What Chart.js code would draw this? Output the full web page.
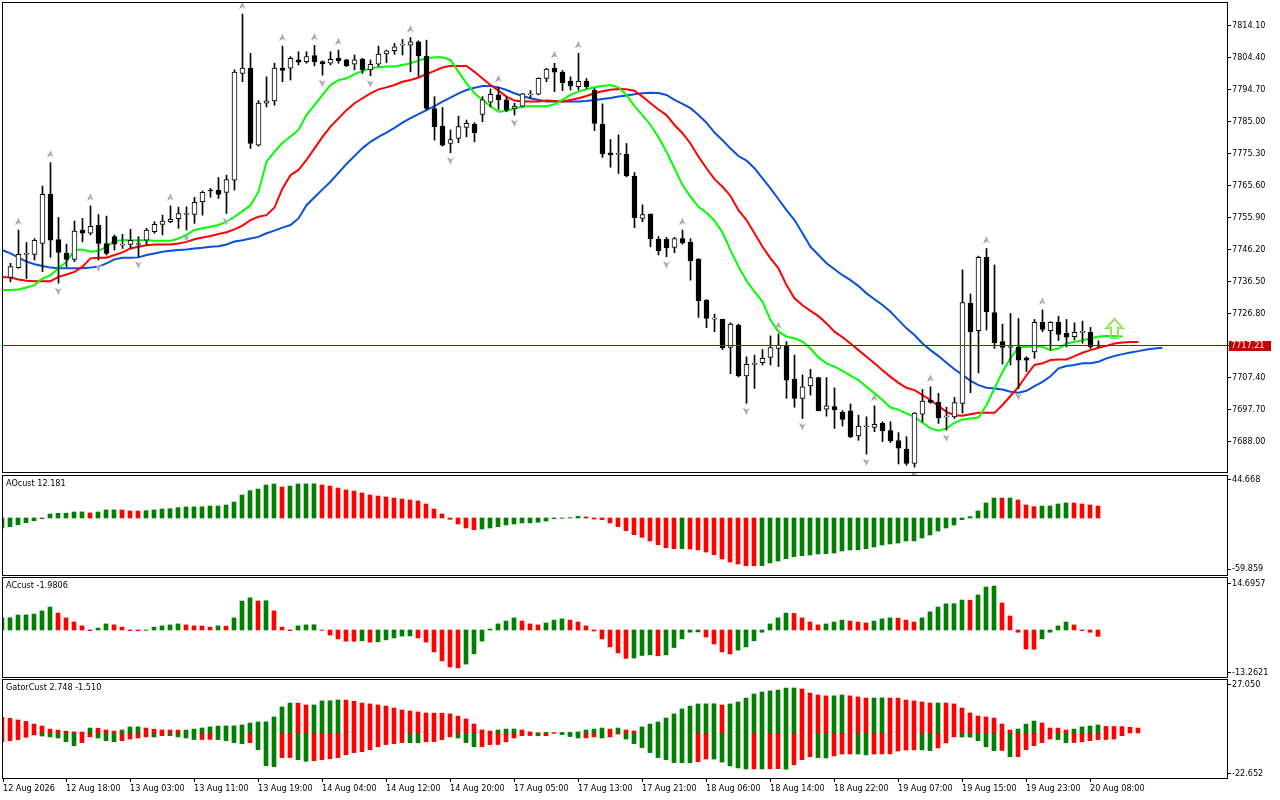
<!DOCTYPE html>
<html>
<head>
<meta charset="utf-8">
<script src="https://cdn.jsdelivr.net/npm/chart.js@4.4.1/dist/chart.umd.min.js"></script>
<style>
  html, body { margin: 0; padding: 0; background: #fff; width: 1280px; height: 800px; overflow: hidden; }
  canvas { position: absolute; left: 0; }
  #main { top: 0; }
  #ao { top: 475px; }
  #ac { top: 577px; }
  #gator { top: 679px; }
</style>
</head>
<body>
<canvas id="main" width="1280" height="476"></canvas>
<canvas id="ao" width="1280" height="101"></canvas>
<canvas id="ac" width="1280" height="101"></canvas>
<canvas id="gator" width="1280" height="121"></canvas>
<script>
// candles, index 0..136 (hourly bars)
const open = [
  7737.7, 7740.7, 7744.7, 7744.7, 7748.0, 7762.9, 7749.2, 7745.0, 7743.2, 7752.1,
  7751.1, 7753.5, 7748.0, 7750.1, 7747.5, 7747.7, 7747.7, 7749.0, 7751.6, 7753.8,
  7754.6, 7755.5, 7756.8, 7756.8, 7760.7, 7764.2, 7764.2, 7763.5, 7767.2, 7799.5,
  7801.1, 7777.8, 7790.5, 7791.2, 7801.1, 7801.1, 7803.6, 7803.1, 7804.9, 7803.1,
  7802.6, 7804.1, 7803.6, 7802.3, 7803.8, 7800.6, 7802.3, 7805.4, 7806.4, 7808.1,
  7808.1, 7809.1, 7804.8, 7788.9, 7783.6, 7778.3, 7779.8, 7783.2, 7784.1, 7787.1,
  7790.8, 7793.0, 7791.5, 7788.9, 7789.6, 7793.0, 7793.2, 7798.0, 7801.1, 7799.9,
  7797.2, 7795.5, 7797.2, 7794.5, 7784.1, 7775.5, 7775.0, 7775.0, 7768.4, 7755.6,
  7756.9, 7749.3, 7749.3, 7746.8, 7749.5, 7748.4, 7743.3, 7730.9, 7725.1, 7725.0,
  7716.5, 7723.3, 7707.9, 7711.4, 7711.9, 7713.5, 7716.2, 7716.9, 7706.9, 7701.1,
  7704.9, 7707.4, 7697.8, 7698.6, 7696.9, 7697.3, 7689.7, 7692.5, 7692.3, 7693.5,
  7691.3, 7688.3, 7685.7, 7681.4, 7696.3, 7700.6, 7699.9, 7695.5, 7695.5, 7699.6,
  7729.9, 7721.6, 7743.8, 7727.1, 7718.3, 7716.5, 7716.7, 7713.4, 7715.2, 7724.1,
  7721.6, 7724.1, 7720.8, 7719.8, 7721.1, 7721.1, 7716.9
];
const high = [
  7742.0, 7752.1, 7748.3, 7749.5, 7765.4, 7772.5, 7755.9, 7747.8, 7754.8, 7755.6,
  7759.4, 7756.8, 7756.3, 7750.6, 7750.8, 7752.3, 7750.1, 7752.6, 7754.6, 7756.6,
  7759.4, 7759.0, 7759.1, 7762.0, 7763.9, 7764.7, 7768.0, 7768.7, 7800.6, 7817.5,
  7805.6, 7791.3, 7798.5, 7802.6, 7807.8, 7804.6, 7806.1, 7806.1, 7808.0, 7803.3,
  7806.1, 7806.6, 7803.8, 7805.1, 7804.1, 7803.6, 7807.8, 7806.6, 7808.6, 7809.8,
  7810.4, 7809.4, 7809.6, 7792.5, 7789.2, 7782.4, 7786.6, 7785.4, 7784.6, 7792.5,
  7794.8, 7795.3, 7792.5, 7790.5, 7793.5, 7794.3, 7798.2, 7801.1, 7802.6, 7800.4,
  7798.5, 7805.6, 7798.0, 7795.0, 7790.3, 7779.5, 7780.9, 7778.3, 7769.5, 7759.7,
  7757.0, 7750.1, 7749.9, 7749.9, 7752.1, 7749.5, 7743.4, 7731.0, 7726.6, 7725.1,
  7724.0, 7723.6, 7713.7, 7714.2, 7715.9, 7720.0, 7720.6, 7718.3, 7714.2, 7708.2,
  7709.9, 7707.5, 7707.4, 7704.3, 7697.4, 7699.4, 7696.0, 7695.5, 7698.8, 7694.0,
  7694.0, 7690.7, 7689.5, 7696.8, 7703.8, 7704.6, 7702.6, 7698.4, 7701.4, 7740.0,
  7732.7, 7744.2, 7746.5, 7741.5, 7723.6, 7726.8, 7725.3, 7713.7, 7725.0, 7727.9,
  7724.3, 7726.0, 7725.0, 7724.0, 7724.5, 7722.6, 7718.5
];
const low = [
  7736.4, 7740.5, 7737.4, 7743.0, 7739.5, 7743.8, 7736.0, 7741.0, 7742.5, 7748.5,
  7750.6, 7743.0, 7744.5, 7746.0, 7746.5, 7746.5, 7744.0, 7747.5, 7751.1, 7750.6,
  7754.3, 7752.6, 7752.1, 7754.1, 7756.6, 7762.0, 7761.7, 7757.1, 7764.2, 7797.0,
  7776.8, 7777.5, 7789.4, 7789.9, 7797.0, 7797.5, 7802.1, 7802.6, 7801.8, 7799.0,
  7802.1, 7802.6, 7801.6, 7800.6, 7799.5, 7798.8, 7801.6, 7802.8, 7805.3, 7805.1,
  7800.0, 7798.7, 7788.5, 7779.3, 7777.5, 7775.5, 7778.5, 7780.3, 7778.8, 7784.9,
  7789.4, 7788.6, 7787.9, 7786.9, 7789.4, 7792.0, 7793.0, 7797.0, 7794.0, 7794.3,
  7794.5, 7794.5, 7795.0, 7782.2, 7774.1, 7771.1, 7769.2, 7768.2, 7752.8, 7754.6,
  7747.0, 7744.5, 7744.0, 7745.2, 7747.8, 7736.9, 7725.6, 7722.5, 7721.3, 7715.9,
  7708.6, 7707.6, 7699.6, 7704.1, 7711.2, 7711.2, 7710.7, 7701.1, 7698.4, 7695.0,
  7702.1, 7697.3, 7695.7, 7692.0, 7692.7, 7689.2, 7688.4, 7684.2, 7691.0, 7688.0,
  7687.7, 7681.2, 7680.8, 7680.3, 7694.0, 7699.6, 7693.5, 7691.5, 7695.0, 7696.6,
  7702.8, 7708.8, 7721.8, 7716.2, 7711.5, 7711.2, 7704.1, 7709.2, 7713.2, 7721.3,
  7715.7, 7718.6, 7716.7, 7718.8, 7717.8, 7716.2, 7716.5
];
const close = [
  7741.0, 7744.7, 7744.7, 7749.0, 7762.9, 7749.0, 7745.3, 7743.2, 7751.8, 7751.1,
  7753.2, 7748.0, 7745.0, 7747.8, 7747.5, 7749.0, 7747.7, 7752.1, 7753.8, 7754.8,
  7755.3, 7757.1, 7756.8, 7760.5, 7763.5, 7763.9, 7762.9, 7767.4, 7799.9, 7801.1,
  7778.3, 7790.5, 7791.2, 7801.1, 7800.4, 7804.1, 7802.9, 7804.6, 7803.1, 7802.4,
  7803.8, 7803.4, 7801.9, 7803.6, 7800.6, 7802.3, 7805.4, 7806.4, 7807.6, 7808.3,
  7809.1, 7804.8, 7788.9, 7783.4, 7777.8, 7779.5, 7783.4, 7784.4, 7781.6, 7791.5,
  7793.2, 7791.5, 7788.4, 7789.6, 7793.3, 7793.2, 7798.0, 7800.8, 7799.9, 7796.7,
  7795.7, 7797.2, 7795.5, 7784.4, 7775.1, 7774.8, 7775.0, 7768.5, 7755.8, 7756.8,
  7749.5, 7745.8, 7746.7, 7749.5, 7748.2, 7742.8, 7730.7, 7725.3, 7725.1, 7716.4,
  7723.6, 7707.9, 7711.4, 7711.4, 7713.2, 7716.5, 7717.2, 7706.6, 7701.1, 7704.6,
  7707.4, 7697.4, 7698.8, 7697.6, 7694.7, 7689.5, 7692.7, 7692.5, 7693.2, 7691.2,
  7688.2, 7686.0, 7681.4, 7696.6, 7700.3, 7699.9, 7695.2, 7695.5, 7699.8, 7730.1,
  7721.3, 7743.8, 7727.3, 7718.0, 7716.5, 7716.5, 7712.7, 7712.7, 7724.1, 7722.0,
  7724.1, 7720.5, 7719.6, 7721.1, 7721.1, 7716.7, 7717.21
];

// alligator lines, first value is bar -1 (lines run past the last bar by their shift)
const lips = [
  7733.9, 7733.9, 7734.1, 7734.7, 7735.4, 7737.4, 7738.4, 7740.5, 7742.5, 7746.0, 7746.2,
  7745.5, 7745.8, 7747.0, 7748.8, 7749.0, 7749.0, 7749.0, 7749.0, 7748.8, 7748.8,
  7748.8, 7749.5, 7750.6, 7752.1, 7752.6, 7753.1, 7753.6, 7754.6, 7756.1, 7757.8,
  7759.6, 7763.7, 7772.8, 7775.8, 7778.5, 7780.4, 7782.4, 7786.9, 7789.9, 7793.0,
  7796.0, 7797.5, 7798.0, 7799.3, 7800.2, 7801.1, 7801.4, 7801.6, 7801.6, 7802.1,
  7802.6, 7803.4, 7804.1, 7804.4, 7804.4, 7803.6, 7800.0, 7796.5, 7793.5, 7791.5,
  7789.6, 7787.9, 7788.2, 7788.9, 7789.4, 7789.6, 7789.6, 7789.6, 7790.2, 7791.5,
  7793.0, 7794.0, 7794.7, 7795.3, 7795.7, 7796.0, 7795.3, 7793.0, 7789.6, 7786.9,
  7783.9, 7780.2, 7775.8, 7770.8, 7765.7, 7762.2, 7759.1, 7757.3, 7754.9, 7751.3,
  7746.0, 7741.0, 7736.7, 7733.4, 7730.4, 7724.8, 7721.3, 7719.8, 7719.3, 7718.3,
  7716.2, 7713.5, 7711.7, 7710.7, 7709.4, 7708.0, 7706.6, 7704.6, 7702.6, 7700.6,
  7698.3, 7697.7, 7696.5, 7695.5, 7693.7, 7692.0, 7691.3, 7692.0, 7693.7, 7694.7,
  7695.0, 7695.3, 7699.1, 7704.1, 7709.1, 7713.3, 7716.5, 7716.7, 7716.7, 7716.7,
  7715.7, 7716.2, 7717.7, 7718.2, 7718.7, 7719.2, 7719.8, 7720.0, 7720.0, 7719.8
];
const teeth = [
  7737.9, 7737.7, 7737.1, 7736.7, 7736.6, 7736.6, 7736.6, 7737.9, 7738.6, 7739.4, 7741.0,
  7743.5, 7743.7, 7743.7, 7744.5, 7745.3, 7746.5, 7747.0, 7747.5, 7747.7, 7747.7,
  7747.7, 7748.0, 7748.5, 7749.3, 7749.8, 7750.3, 7750.9, 7751.4, 7752.3, 7753.4,
  7755.1, 7756.1, 7756.6, 7758.9, 7764.7, 7768.7, 7770.3, 7773.3, 7776.8, 7780.3,
  7783.4, 7785.9, 7788.4, 7790.5, 7792.0, 7793.5, 7794.7, 7795.3, 7796.0, 7797.0,
  7797.5, 7798.3, 7799.3, 7800.3, 7801.3, 7801.8, 7801.8, 7801.8, 7800.0, 7798.0,
  7796.0, 7794.3, 7792.5, 7791.3, 7791.0, 7791.0, 7791.0, 7791.3, 7791.2, 7791.0,
  7791.5, 7792.0, 7792.7, 7793.5, 7794.1, 7794.6, 7794.8, 7794.7, 7794.3, 7792.5,
  7790.5, 7788.6, 7786.9, 7783.9, 7781.4, 7778.3, 7774.3, 7770.8, 7767.5, 7765.2,
  7762.4, 7758.1, 7755.1, 7751.1, 7747.0, 7743.5, 7740.5, 7735.4, 7731.4, 7729.3,
  7727.6, 7726.0, 7723.8, 7721.3, 7719.6, 7717.7, 7715.7, 7713.7, 7711.7, 7709.6,
  7707.6, 7705.8, 7704.3, 7703.6, 7702.1, 7700.6, 7698.8, 7697.0, 7696.0, 7695.8,
  7696.3, 7696.7, 7696.7, 7696.7, 7699.1, 7701.8, 7704.6, 7708.1, 7711.2, 7711.7,
  7712.7, 7712.9, 7712.9, 7713.9, 7714.9, 7715.7, 7716.4, 7717.0, 7717.7, 7718.0,
  7718.2, 7718.2
];
const jaw = [
  7746.0, 7745.0, 7743.7, 7742.5, 7741.7, 7741.2, 7740.7, 7740.5, 7740.5, 7740.5, 7740.5,
  7740.7, 7741.0, 7742.0, 7743.2, 7743.7, 7743.7, 7743.8, 7744.5, 7745.0, 7745.5,
  7745.8, 7746.0, 7746.2, 7746.5, 7746.7, 7747.0, 7747.2, 7747.7, 7748.6, 7749.0,
  7749.5, 7750.0, 7751.1, 7751.9, 7752.8, 7753.6, 7755.6, 7759.6, 7762.0, 7764.4,
  7766.7, 7769.4, 7772.1, 7774.5, 7776.9, 7778.8, 7780.3, 7781.6, 7783.0, 7784.6,
  7786.0, 7787.2, 7788.4, 7789.6, 7791.0, 7792.2, 7793.5, 7794.5, 7795.2, 7795.7,
  7795.7, 7795.3, 7794.5, 7793.5, 7792.7, 7792.0, 7791.5, 7791.0, 7791.0, 7791.0,
  7791.0, 7791.0, 7791.2, 7791.5, 7791.8, 7792.1, 7792.5, 7792.8, 7793.2, 7793.5,
  7793.7, 7793.6, 7793.0, 7791.5, 7790.3, 7789.0, 7786.9, 7784.6, 7781.6, 7779.3,
  7776.8, 7774.5, 7773.1, 7770.8, 7767.7, 7764.7, 7761.4, 7758.1, 7755.1, 7751.1,
  7747.0, 7744.5, 7742.0, 7740.2, 7738.4, 7736.9, 7735.1, 7732.9, 7731.1, 7729.4,
  7727.3, 7724.8, 7722.3, 7720.3, 7717.7, 7715.7, 7713.9, 7711.9, 7709.9, 7708.2,
  7706.4, 7705.1, 7704.3, 7704.1, 7703.8, 7703.1, 7702.8, 7703.4, 7704.8, 7706.1,
  7707.8, 7710.2, 7710.9, 7711.2, 7711.7, 7711.7, 7712.2, 7713.2, 7713.9, 7714.5,
  7715.0, 7715.4, 7715.9, 7716.2, 7716.4
];

// fractal bars and the buy-signal arrow
const fractalUp = [1, 5, 10, 20, 29, 34, 38, 41, 50, 61, 68, 71, 84, 96, 108, 115, 122, 129];
const fractalDown = [6, 11, 16, 22, 27, 39, 45, 55, 63, 82, 92, 99, 107, 113, 117, 126];
const signalBar = [138];
const signalPrice = [7719.4];
const lastPrice = 7717.21;

// indicator histograms, first value is bar -1
const ao = [
  -11.7, -10.1, -7.8, -5.5, -3.1, -0.8, 4.7, 5.5, 5.6, 7.0, 7.1,
  5.9, 7.0, 9.4, 9.5, 9.3, 8.2, 8.1, 8.6, 9.4, 10.5,
  10.9, 12.1, 12.9, 13.0, 13.1, 14.0, 14.1, 15.2, 18.7, 26.9,
  32.0, 33.9, 38.6, 39.8, 36.3, 37.4, 39.8, 39.9, 40.0, 38.6,
  37.4, 35.1, 32.8, 31.6, 29.3, 26.9, 25.7, 24.6, 23.4, 22.2,
  21.1, 19.9, 16.4, 10.5, 4.7, -1.5, -7.0, -11.7, -13.6, -12.9,
  -11.7, -10.1, -8.2, -7.0, -5.8, -5.7, -5.0, -3.5, -0.8, -0.4,
  0.4, 1.9, 1.2, -1.2, -1.9, -5.8, -10.1, -14.8, -19.5, -22.6,
  -26.9, -31.2, -34.7, -35.9, -35.8, -36.3, -37.4, -39.8, -42.9, -48.0,
  -51.5, -53.8, -55.8, -55.9, -55.7, -52.6, -50.3, -47.6, -45.2, -44.1,
  -43.3, -42.1, -41.7, -41.0, -38.6, -37.4, -37.3, -35.9, -33.9, -31.6,
  -30.4, -29.3, -26.9, -26.8, -23.4, -19.9, -15.2, -11.7, -8.2, -1.9,
  1.6, 8.2, 17.6, 23.4, 23.3, 23.4, 21.1, 15.2, 13.3, 14.0,
  14.1, 16.4, 17.6, 17.5, 16.4, 15.2, 14.0
];
const ac = [
  3.8, 3.85, 4.7, 4.75, 5.0, 6.0, 7.2, 5.3, 3.8, 2.5, 1.3,
  -0.2, 0.6, 1.9, 1.6, 0.9, -0.2, -0.25, -0.1, 0.9, 1.3,
  1.6, 1.9, 1.6, 1.3, 1.25, 0.9, 1.3, 1.2, 3.8, 9.1,
  10.1, 9.1, 9.2, 6.0, 0.9, -0.2, 1.3, 1.6, 1.65, -0.1,
  -1.6, -2.8, -3.5, -3.55, -3.4, -3.8, -3.7, -3.1, -2.5, -1.9,
  -1.85, -2.5, -3.8, -6.9, -9.7, -11.6, -11.9, -10.7, -7.5, -3.5,
  0.3, 1.9, 2.8, 3.8, 2.8, 1.9, 1.6, 2.2, 3.1, 3.5,
  3.1, 2.5, 1.3, -0.3, -2.8, -5.3, -7.2, -8.9, -8.8, -8.0,
  -7.8, -8.1, -7.8, -5.5, -2.8, -0.7, -0.6, -2.2, -4.4, -6.9,
  -7.5, -6.3, -5.3, -3.4, -0.7, 1.9, 3.8, 5.3, 5.2, 3.8,
  2.5, 1.6, 1.9, 2.5, 3.1, 2.8, 2.5, 2.2, 2.8, 3.5,
  3.8, 3.7, 3.1, 2.5, 3.8, 5.7, 7.2, 8.2, 8.25, 9.4,
  9.35, 11.0, 13.5, 13.8, 8.5, 4.4, -0.7, -6.0, -6.05, -2.8,
  -0.7, 1.3, 2.5, 1.6, -0.2, -0.7, -1.98
];
const gatorUp = [
  8.8, 8.2, 7.3, 6.5, 5.0, 3.9, 2.2, 1.6, 1.0, 0.6, 0.55,
  2.8, 2.7, 1.7, 1.1, 1.7, 3.4, 3.45, 2.8, 2.1, 1.7,
  1.65, 1.6, 1.65, 2.2, 2.8, 3.4, 3.9, 3.95, 4.0, 4.5,
  5.6, 6.2, 6.25, 9.0, 14.6, 16.8, 16.75, 15.7, 15.75, 18.0,
  18.05, 18.5, 18.45, 17.8, 16.8, 16.3, 15.7, 15.1, 14.0, 12.9,
  12.3, 11.8, 11.2, 11.15, 11.1, 10.7, 9.5, 7.9, 5.0, 1.7,
  1.1, 1.7, 2.2, 2.25, 1.7, 0.6, 0.05, 0.3, 0.2, 0.25,
  0.3, 0.6, 1.7, 2.2, 2.8, 2.2, 2.8, 1.7, 1.1, 3.4,
  5.0, 6.2, 8.4, 10.7, 13.5, 15.1, 16.3, 16.35, 16.4, 15.7,
  16.3, 17.4, 19.6, 21.9, 23.0, 23.6, 24.1, 25.2, 25.25, 24.7,
  22.4, 21.3, 20.8, 20.85, 21.3, 20.8, 20.2, 19.6, 19.65, 19.7,
  19.6, 19.55, 18.5, 18.0, 17.4, 16.8, 16.85, 16.8, 16.3, 14.0,
  11.2, 9.5, 9.0, 8.4, 5.0, 1.7, 2.2, 5.0, 6.7, 5.6,
  2.8, 2.75, 1.7, 2.2, 3.4, 3.9, 4.5, 3.7, 3.65, 3.6,
  3.2, 2.75
];
const gatorDown = [
  -4.9, -4.3, -3.7, -2.4, -1.1, -1.7, -2.2, -2.8, -4.9, -7.1, -5.4,
  -2.2, -2.8, -4.3, -4.9, -4.3, -3.4, -2.8, -2.2, -2.25, -1.5,
  -1.55, -2.2, -2.8, -3.7, -3.65, -3.6, -3.7, -4.3, -5.4, -6.0,
  -5.4, -9.4, -18.3, -18.9, -13.8, -13.75, -15.0, -15.9, -15.5, -15.0,
  -14.4, -13.8, -12.2, -11.0, -10.5, -9.4, -7.7, -6.5, -6.0, -5.4,
  -5.45, -5.5, -4.9, -4.85, -3.7, -2.2, -2.8, -5.4, -7.7, -7.65,
  -6.5, -6.45, -4.9, -2.8, -1.5, -1.45, -1.55, -1.5, -0.1, -0.9,
  -2.0, -2.8, -2.75, -2.2, -2.8, -2.2, -0.6, -3.4, -6.0, -8.2,
  -11.0, -13.8, -15.0, -16.6, -16.65, -16.7, -16.1, -14.6, -14.65, -16.3,
  -18.5, -19.6, -20.2, -20.15, -20.2, -20.1, -20.0, -20.3, -17.8, -15.0,
  -13.3, -13.8, -14.0, -12.9, -11.8, -11.75, -11.8, -12.3, -11.8, -11.75,
  -11.7, -10.1, -9.5, -9.45, -9.5, -9.9, -8.4, -5.6, -2.2, -2.25,
  -2.3, -4.3, -7.7, -9.9, -9.8, -13.3, -13.25, -9.4, -7.1, -5.4,
  -3.4, -3.7, -5.4, -5.35, -4.9, -4.3, -3.7, -3.65, -3.4, -1.51
];

// axis texts
const priceTicks = [7688.00, 7697.70, 7707.40, 7717.10, 7726.80, 7736.50, 7746.20, 7755.90, 7765.60, 7775.30, 7785.00, 7794.70, 7804.40, 7814.10];
const aoTicks = ['44.668', '-59.859'];
const acTicks = ['14.6957', '-13.2621'];
const gatorTicks = ['27.050', '-22.652'];
const timeTicks = [-1, 7, 15, 23, 31, 39, 47, 55, 63, 71, 79, 87, 95, 103, 111, 119, 127, 135];
const timeLabels = ['12 Aug 2026', '12 Aug 18:00', '13 Aug 03:00', '13 Aug 11:00', '13 Aug 19:00', '14 Aug 04:00',
  '14 Aug 12:00', '14 Aug 20:00', '17 Aug 05:00', '17 Aug 13:00', '17 Aug 21:00', '18 Aug 06:00',
  '18 Aug 14:00', '18 Aug 22:00', '19 Aug 07:00', '19 Aug 15:00', '19 Aug 23:00', '20 Aug 08:00'];
const titles = { ao: 'AOcust 12.181', ac: 'ACcust -1.9806', gator: 'GatorCust 2.748 -1.510' };

const GREEN = '#008000', RED = '#ff0000';
const FONT = "'DejaVu Sans Condensed', 'DejaVu Sans', sans-serif";

Chart.defaults.font.family = FONT;
Chart.defaults.font.size = 9;
Chart.defaults.color = '#000';
Chart.defaults.animation = false;
Chart.defaults.events = [];
Chart.defaults.plugins.legend.display = false;
Chart.defaults.plugins.tooltip.enabled = false;

const pts = (arr, start) => arr.map((v, k) => ({ x: k + start, y: v }));

// green when the bar grows, red when it falls
function trendColors(vals, first) {
  return vals.map((v, k) => k === 0 ? first : (v > vals[k - 1] ? GREEN : RED));
}
function gatorColors(vals) {
  return vals.map((v, k) => k === 0 ? RED : (Math.abs(v) > Math.abs(vals[k - 1]) ? GREEN : RED));
}

const framePlugin = {
  id: 'frame',
  afterDraw(chart) {
    const a = chart.chartArea, c = chart.ctx;
    c.save();
    c.strokeStyle = '#000';
    c.lineWidth = 1;
    c.strokeRect(a.left - 0.5, a.top - 0.5, a.right - a.left + 1, a.bottom - a.top + 1);
    c.restore();
  }
};

const titlePlugin = {
  id: 'title',
  afterDraw(chart, args, opts) {
    if (!opts.text) return;
    const c = chart.ctx;
    c.save();
    c.font = '9px ' + FONT;
    c.fillStyle = '#000';
    c.textBaseline = 'top';
    c.fillText(opts.text, chart.chartArea.left + 3, chart.chartArea.top + 3);
    c.restore();
  }
};

function drawFractal(c, x, y, up) {
  const s = up ? -1 : 1;
  const g = c.createLinearGradient(x - 4, 0, x + 4, 0);
  g.addColorStop(0, '#8a8a98');
  g.addColorStop(1, '#d4d4dc');
  c.beginPath();
  c.moveTo(x, y + s * 4);
  c.lineTo(x + 3.5, y - s * 3.5);
  c.lineTo(x, y - s * 1.5);
  c.lineTo(x - 3.5, y - s * 3.5);
  c.closePath();
  c.fillStyle = g;
  c.fill();
}

const marksPlugin = {
  id: 'marks',
  afterDatasetsDraw(chart) {
    const c = chart.ctx, xs = chart.scales.x, ys = chart.scales.y, a = chart.chartArea;
    c.save();
    fractalUp.forEach(i => drawFractal(c, xs.getPixelForValue(i), ys.getPixelForValue(high[i]) - 8.5, true));
    fractalDown.forEach(i => drawFractal(c, xs.getPixelForValue(i), ys.getPixelForValue(low[i]) + 8, false));

    // buy signal arrow (hollow)
    signalBar.forEach((b, k) => {
      const x = xs.getPixelForValue(b), y = ys.getPixelForValue(signalPrice[k]);
      c.beginPath();
      c.moveTo(x - 3.5, y); c.lineTo(x + 3.5, y); c.lineTo(x + 3.5, y - 10);
      c.lineTo(x + 8, y - 10); c.lineTo(x, y - 19); c.lineTo(x - 8, y - 10);
      c.lineTo(x - 3.5, y - 10); c.closePath();
      c.strokeStyle = '#6ccf3c'; c.lineWidth = 2; c.stroke();
      c.strokeStyle = '#e4f59a'; c.lineWidth = 0.8; c.stroke();
    });

    // last price line
    const py = Math.round(ys.getPixelForValue(lastPrice)) + 0.5;
    c.beginPath();
    c.moveTo(a.left, py); c.lineTo(a.right, py);
    c.strokeStyle = '#b40000'; c.lineWidth = 1; c.stroke();
    c.restore();
  },
  afterDraw(chart) {
    const c = chart.ctx, ys = chart.scales.y, a = chart.chartArea;
    const py = Math.round(ys.getPixelForValue(lastPrice));
    c.save();
    c.fillStyle = '#c80000';
    c.fillRect(a.right + 2, py - 4, 42, 10);
    c.fillStyle = '#fff';
    c.font = '9px ' + FONT;
    c.textBaseline = 'middle';
    c.fillText(lastPrice.toFixed(2), a.right + 4, py + 1);
    c.restore();
  }
};

function rightAxis(min, max, values, labels) {
  return {
    position: 'right', min, max,
    afterFit: s => { s.width = 53; s.paddingTop = 0; s.paddingBottom = 0; },
    afterBuildTicks: s => { s.ticks = values.map(v => ({ value: v })); },
    grid: { drawOnChartArea: false, drawTicks: true, tickLength: 4, color: '#000' },
    border: { display: false },
    ticks: { padding: 1, autoSkip: false, callback: (v, i) => labels[i] }
  };
}

// main price pane: candles are drawn over the alligator lines
const idxBars = close.map((v, i) => i);
new Chart(document.getElementById('main'), {
  type: 'bar',
  data: {
    datasets: [
      {
        data: idxBars.map(i => ({ x: i, y: [open[i], close[i]] })),
        backgroundColor: idxBars.map(i => close[i] >= open[i] ? '#ffffff' : '#000000'),
        borderColor: '#000', borderWidth: 1, borderSkipped: false,
        barThickness: 5, minBarLength: 1, grouped: false, order: 0
      },
      {
        data: idxBars.map(i => ({ x: i, y: [low[i], high[i]] })),
        backgroundColor: '#000', borderWidth: 0,
        barThickness: 1, grouped: false, order: 1
      },
      { type: 'line', data: pts(lips, -1), borderColor: '#00ff00', borderWidth: 2, pointRadius: 0, order: 2 },
      { type: 'line', data: pts(teeth, -1), borderColor: '#ff0000', borderWidth: 2, pointRadius: 0, order: 3 },
      { type: 'line', data: pts(jaw, -1), borderColor: '#0a50d8', borderWidth: 2, pointRadius: 0, order: 4 }
    ]
  },
  options: {
    responsive: false,
    devicePixelRatio: 1,
    layout: { padding: { left: 3, top: 3, right: 0, bottom: 4 } },
    scales: {
      x: { type: 'linear', display: false, min: -0.9375, max: 152.0625, offset: false, grid: { offset: false } },
      y: rightAxis(7678.79, 7820.85, priceTicks, priceTicks.map(v => v.toFixed(2)))
    }
  },
  plugins: [marksPlugin, framePlugin]
});

function histChart(id, sets, yScale, title, withTime) {
  const x = {
    type: 'linear', min: -0.875, max: 152.125, offset: false, grid: { offset: false },
    display: !!withTime
  };
  if (withTime) {
    Object.assign(x, {
      position: 'bottom',
      afterBuildTicks: s => { s.ticks = timeTicks.map(v => ({ value: Math.max(v, s.min) })); },
      afterFit: s => { s.height = 22; s.paddingLeft = 0; s.paddingRight = 0; },
      grid: { offset: false, drawOnChartArea: false, drawTicks: true, tickLength: 4, color: '#000' },
      border: { display: false },
      ticks: { autoSkip: false, maxRotation: 0, minRotation: 0, align: 'start', padding: 1, callback: (v, i) => timeLabels[i] }
    });
  }
  return new Chart(document.getElementById(id), {
    type: 'bar',
    data: { datasets: sets },
    options: {
      responsive: false,
      devicePixelRatio: 1,
      layout: { padding: { left: 3, top: 1, right: 0, bottom: withTime ? 0 : 1 } },
      scales: { x, y: yScale },
      plugins: { title: { text: title } }
    },
    plugins: [titlePlugin, framePlugin]
  });
}

const barSet = (vals, colors) => ({
  data: pts(vals, -1), backgroundColor: colors, borderWidth: 0,
  barThickness: 4, grouped: false
});

histChart('ao', [barSet(ao, trendColors(ao, GREEN))],
  rightAxis(-66.72, 49.16, aoTicks.map(Number), aoTicks), titles.ao, false);
histChart('ac', [barSet(ac, trendColors(ac, GREEN))],
  rightAxis(-14.76, 16.33, acTicks.map(Number), acTicks), titles.ac, false);
histChart('gator', [barSet(gatorUp, gatorColors(gatorUp)), barSet(gatorDown, gatorColors(gatorDown))],
  rightAxis(-25.25, 29.73, gatorTicks.map(Number), gatorTicks), titles.gator, true);
</script>
</body>
</html>
